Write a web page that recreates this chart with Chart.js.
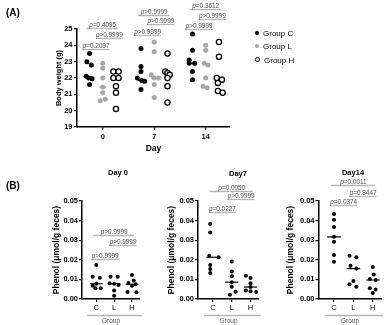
<!DOCTYPE html>
<html>
<head>
<meta charset="utf-8">
<script src="https://cdn.jsdelivr.net/npm/chart.js@4.4.0/dist/chart.umd.min.js"></script>
<style>
  html, body { margin: 0; padding: 0; background: #fff; }
  #fig { position: relative; width: 391px; height: 325px; overflow: hidden; font-family: "Liberation Sans", Arial, sans-serif; }
  canvas { position: absolute; }
  .txt { position: absolute; white-space: nowrap; color: #000; transform: translate(-50%, -50%); }
  .panel { font-weight: bold; font-size: 10px; transform: none; }
  .day { font-weight: bold; font-size: 7.5px; }
  .leg { position: absolute; left: 255px; font-size: 8px; color: #000; white-space: nowrap; }
  .leg i { display: inline-block; width: 4px; height: 4px; border-radius: 50%; margin-right: 4px; vertical-align: middle; position: relative; top: -1px; box-sizing: border-box; }
</style>
</head>
<body>
<div id="fig">
  <canvas id="chartA" width="391" height="160" style="left:0;top:0"></canvas>
  <canvas id="chartB0" width="110" height="165" style="left:40px;top:160px"></canvas>
  <canvas id="chartB7" width="110" height="165" style="left:155px;top:160px"></canvas>
  <canvas id="chartB14" width="116" height="165" style="left:275px;top:160px"></canvas>

  <div class="txt panel" style="left:6px;top:7px">(A)</div>
  <div class="txt panel" style="left:6px;top:180px">(B)</div>

  <div class="leg" style="top:29px"><i style="background:#000"></i>Group C</div>
  <div class="leg" style="top:42px"><i style="background:#a6a6a6"></i>Group L</div>
  <div class="leg" style="top:56px"><i style="background:#fff;border:1.2px solid #000;width:5px;height:5px"></i>Group H</div>

  <div class="txt day" style="left:118px;top:172px">Day 0</div>
  <div class="txt day" style="left:238px;top:173px">Day7</div>
  <div class="txt day" style="left:353px;top:172px">Day14</div>
</div>

<script>
// Categories
const days = [0, 7, 14];
const groups = ['C', 'L', 'H'];

// Body weight (g), one list per day: [day 0, day 7, day 14]
const weightC = [
  [23.5, 23.0, 22.8, 22.1, 22.0, 21.95, 21.6],
  [23.8, 22.7, 22.4, 22.0, 21.85, 21.8, 21.3],
  [24.7, 23.7, 23.1, 22.9, 22.9, 22.4, 21.9]
];
const weightL = [
  [22.9, 22.6, 22.0, 21.45, 21.1, 20.7, 20.6],
  [24.2, 23.6, 22.2, 22.0, 22.0, 21.6, 20.8],
  [24.0, 23.7, 22.9, 22.8, 22.0, 21.5, 21.4]
];
const weightH = [
  [22.4, 22.4, 22.0, 22.0, 21.5, 21.1, 20.1],
  [23.5, 22.4, 22.3, 22.2, 22.0, 21.5, 20.5],
  [24.2, 23.3, 22.0, 21.9, 21.7, 21.2, 21.1]
];
const weightMedC = [22.05, 21.85, 22.9];
const weightMedL = [21.45, 22.0, 22.85];
const weightMedH = [22.0, 22.2, 21.9];
// p values per day: [C vs L, L vs H, C vs H]
const weightP = [
  ['p=0.2097', 'p>0.9999', 'p=0.4095'],
  ['p>0.9999', 'p>0.9999', 'p>0.9999'],
  ['p>0.9999', 'p>0.9999', 'p=0.3612']
];

// Phenol (umol/g feces), one list per day
const phenolC = [
  [0.0173, 0.0114, 0.0108, 0.0078, 0.0068, 0.0055, 0.0055],
  [0.0383, 0.0339, 0.0221, 0.0213, 0.0174, 0.0153, 0.0133],
  [0.0434, 0.0404, 0.0367, 0.0317, 0.0292, 0.0225, 0.0190]
];
const phenolL = [
  [0.0114, 0.0114, 0.0080, 0.0078, 0.0072, 0.0044, 0.0016],
  [0.0191, 0.0140, 0.0116, 0.0086, 0.0063, 0.0037, 0.0022],
  [0.0221, 0.0213, 0.0170, 0.0155, 0.0092, 0.0075, 0.0063]
];
const phenolH = [
  [0.0122, 0.0095, 0.0082, 0.0075, 0.0068, 0.0036, 0.0034],
  [0.0118, 0.0107, 0.0080, 0.0061, 0.0043, 0.0040, 0.0036],
  [0.0163, 0.0125, 0.0102, 0.0097, 0.0055, 0.0048, 0.0030]
];
const phenolMedC = [0.0078, 0.0213, 0.0317];
const phenolMedL = [0.0078, 0.0086, 0.0155];
const phenolMedH = [0.0075, 0.0061, 0.0097];
const phenolP = [
  ['p>0.9999', 'p>0.9999', 'p>0.9999'],
  ['p=0.0227', 'p>0.9999', 'p=0.0050'],
  ['p=0.0374', 'p=0.8447', 'p=0.0011']
];
const dayTitles = ['Day 0', 'Day7', 'Day14'];

// ---- layout / styling (not data) ----
const FONT = '"Liberation Sans", Arial, sans-serif';
Chart.defaults.font.family = FONT;
Chart.defaults.color = '#000';

// horizontal scatter of dots (x units), same shape as the value lists
const jitterA = {
  C: [[0, -0.35, 0.25, -0.45, -0.1, 0.35, 0], [0, 0, 0, -0.5, 0.1, 0.5, 0], [0, 0, -0.45, -0.45, 0.3, 0, 0]],
  L: [[0, 0, 0, 0, 0, 0.35, -0.35], [0, 0, -0.4, 0, 0.6, 0, 0], [0, 0, -0.2, 0.3, 0, -0.35, 0.2]],
  H: [[-0.35, 0.35, -0.35, 0.35, 0, 0, 0], [0, -0.3, 0, 0.3, 0, 0, 0], [0, 0, -0.3, 0.4, -0.15, -0.15, 0.5]]
};
const jitterB = {
  C: [[0, -0.2, 0.2, 0, -0.2, -0.05, 0.25], [-0.15, -0.15, -0.2, 0.3, -0.15, -0.15, -0.15], [0, 0, 0, 0, 0, 0, 0]],
  L: [[-0.2, 0.2, -0.25, 0, 0.25, 0, 0], [0, 0, 0, 0, 0, 0.2, -0.1], [-0.2, 0.15, -0.15, 0.15, 0, -0.2, 0.15]],
  H: [[0, 0.1, -0.2, 0.2, 0, -0.25, 0.25], [-0.25, 0, 0, 0, -0.25, 0, 0.3], [0, 0.05, -0.15, 0.15, -0.15, 0.15, 0]]
};
const groupOffsetA = { C: -1.8, L: 0, H: 1.8 };
const pairs = [['C', 'L'], ['L', 'H'], ['C', 'H']];
const bracketLevelsA = [[23.77, 24.43, 25.04], [24.63, 25.31, 25.86], [24.98, 25.62, 26.22]];
const bracketLevelsB = [[0.0204, 0.0276, 0.0327], [0.0446, 0.0509, 0.0552], [0.048, 0.0528, 0.0582]];

const weight = { C: weightC, L: weightL, H: weightH };
const weightMed = { C: weightMedC, L: weightMedL, H: weightMedH };
const phenol = { C: phenolC, L: phenolL, H: phenolH };
const phenolMed = { C: phenolMedC, L: phenolMedL, H: phenolMedH };

// p-value brackets + "Group" rule under the x axis
const bracketPlugin = {
  id: 'brackets',
  afterDraw(chart, args, opts) {
    const { ctx } = chart;
    const xs = chart.scales.x, ys = chart.scales.y;
    ctx.save();
    (opts.items || []).forEach(b => {
      const x1 = xs.getPixelForValue(b.from);
      const x2 = xs.getPixelForValue(b.to);
      const yy = Math.round(ys.getPixelForValue(b.level)) + 0.5;
      ctx.font = `italic ${opts.size}px ${FONT}`;
      const pw = ctx.measureText('p').width;
      ctx.font = `${opts.size}px ${FONT}`;
      const rest = b.text.slice(1);
      const tw = pw + ctx.measureText(rest).width;
      const mid = (x1 + x2) / 2;
      const left = Math.min(x1 - 3, mid - tw / 2);
      const right = Math.max(x2 + 2, mid + tw / 2);
      ctx.strokeStyle = '#b5b5b5';
      ctx.lineWidth = 1.3;
      ctx.beginPath();
      ctx.moveTo(left, yy);
      ctx.lineTo(right, yy);
      ctx.stroke();
      ctx.fillStyle = '#4d4d4d';
      ctx.textBaseline = 'alphabetic';
      ctx.textAlign = 'left';
      ctx.font = `italic ${opts.size}px ${FONT}`;
      ctx.fillText('p', mid - tw / 2, yy - 1.5);
      ctx.font = `${opts.size}px ${FONT}`;
      ctx.fillText(rest, mid - tw / 2 + pw, yy - 1.5);
    });
    if (opts.groupRule) {
      const a = xs.getPixelForValue(0) - 9;
      const c = xs.getPixelForValue(groups.length - 1) + 10;
      const yy = xs.bottom - 9.5;
      ctx.strokeStyle = '#b5b5b5';
      ctx.lineWidth = 1.3;
      ctx.beginPath();
      ctx.moveTo(a, yy);
      ctx.lineTo(c, yy);
      ctx.stroke();
    }
    ctx.restore();
  }
};

function axisStyle() {
  return {
    grid: { drawOnChartArea: false, drawTicks: true, tickLength: 3, color: '#000', lineWidth: 1.2 },
    border: { color: '#000', width: 1.5 }
  };
}

// ---- Panel A ----
function renderWeightChart() {
  const styles = {
    C: { backgroundColor: '#000', borderColor: '#000', borderWidth: 0, pointRadius: 2.5 },
    L: { backgroundColor: '#a6a6a6', borderColor: '#a6a6a6', borderWidth: 0, pointRadius: 2.5 },
    H: { backgroundColor: '#fff', borderColor: '#000', borderWidth: 1.3, pointRadius: 2.6 }
  };
  const medColor = { C: '#000', L: '#999', H: '#000' };
  const datasets = [];
  groups.forEach(g => {
    days.forEach((d, i) => {
      const cx = d + groupOffsetA[g];
      datasets.push({
        data: [{ x: cx - 0.45, y: weightMed[g][i] }, { x: cx + 0.45, y: weightMed[g][i] }],
        showLine: true, borderColor: medColor[g], borderWidth: 1.2, pointRadius: 0, order: 2
      });
    });
  });
  groups.forEach(g => {
    const pts = [];
    days.forEach((d, i) => {
      weight[g][i].forEach((v, j) => pts.push({ x: d + groupOffsetA[g] + jitterA[g][i][j], y: v }));
    });
    datasets.push(Object.assign({ label: 'Group ' + g, data: pts, order: 1, clip: false }, styles[g]));
  });

  const items = [];
  days.forEach((d, i) => {
    pairs.forEach((p, k) => {
      items.push({ from: d + groupOffsetA[p[0]], to: d + groupOffsetA[p[1]], level: bracketLevelsA[i][k], text: weightP[i][k] });
    });
  });

  const ax = axisStyle();
  new Chart(document.getElementById('chartA'), {
    type: 'scatter',
    data: { datasets },
    plugins: [bracketPlugin],
    options: {
      responsive: false, animation: false, events: [],
      layout: { padding: { left: 52, top: 29, right: 161, bottom: 0 } },
      plugins: {
        legend: { display: false }, tooltip: { enabled: false },
        brackets: { items, size: 6.4 }
      },
      scales: {
        x: {
          type: 'linear', min: -3.5, max: 17.3,
          afterBuildTicks: s => { s.ticks = days.map(v => ({ value: v })); },
          afterFit: s => { s.height = 33; },
          grid: ax.grid, border: ax.border,
          ticks: { color: '#000', font: { size: 7.5, weight: 'bold' }, padding: 2 },
          title: { display: true, text: 'Day', color: '#000', font: { size: 8.5, weight: 'bold' }, padding: { top: 0, bottom: 6 } }
        },
        y: {
          min: 19, max: 25,
          afterFit: s => { s.width = 25; },
          grid: ax.grid, border: ax.border,
          ticks: { stepSize: 1, color: '#000', font: { size: 7.5, weight: 'bold' }, padding: 1.5 },
          title: { display: true, text: 'Body weight (g)', color: '#000', font: { size: 7.5, weight: 'bold' }, padding: { top: 2, bottom: 0 } }
        }
      }
    }
  });
}

// ---- Panel B ----
const panelBLayout = [
  { id: 'chartB0', padLeft: 11, axisWidth: 31, padRight: 10 },
  { id: 'chartB7', padLeft: 11, axisWidth: 32, padRight: 6 },
  { id: 'chartB14', padLeft: 9.5, axisWidth: 34, padRight: 9.5 }
];

function renderPhenolChart(i) {
  const lay = panelBLayout[i];
  const datasets = [];
  groups.forEach((g, gi) => {
    datasets.push({
      data: [{ x: gi - 0.35, y: phenolMed[g][i] }, { x: gi + 0.35, y: phenolMed[g][i] }],
      showLine: true, borderColor: '#000', borderWidth: 1.2, pointRadius: 0, order: 2
    });
  });
  groups.forEach((g, gi) => {
    datasets.push({
      data: phenol[g][i].map((v, j) => ({ x: gi + jitterB[g][i][j], y: v })),
      backgroundColor: '#000', borderColor: '#000', borderWidth: 0, pointRadius: 2, order: 1, clip: false
    });
  });
  const items = pairs.map((p, k) => ({
    from: groups.indexOf(p[0]), to: groups.indexOf(p[1]), level: bracketLevelsB[i][k], text: phenolP[i][k]
  }));

  const ax = axisStyle();
  new Chart(document.getElementById(lay.id), {
    type: 'scatter',
    data: { datasets },
    plugins: [bracketPlugin],
    options: {
      responsive: false, animation: false, events: [],
      layout: { padding: { left: lay.padLeft, top: 41, right: lay.padRight, bottom: 0 } },
      plugins: {
        legend: { display: false }, tooltip: { enabled: false },
        brackets: { items, size: 6.4, groupRule: true }
      },
      scales: {
        x: {
          type: 'linear', min: -0.8, max: 2.45,
          afterBuildTicks: s => { s.ticks = groups.map((g, gi) => ({ value: gi })); },
          afterFit: s => { s.height = 26; },
          grid: ax.grid, border: ax.border,
          ticks: { color: '#000', font: { size: 7.5 }, padding: 1, callback: v => groups[v] },
          title: { display: true, text: 'Group', color: '#555', font: { size: 6.5 }, padding: { top: 0, bottom: 0 } }
        },
        y: {
          min: 0, max: 0.05,
          afterFit: s => { s.width = lay.axisWidth; },
          grid: ax.grid, border: ax.border,
          ticks: { stepSize: 0.01, color: '#000', font: { size: 7.5, weight: 'bold' }, padding: 1, callback: v => v.toFixed(2) },
          title: { display: true, text: 'Phenol (μmol/g feces)', color: '#000', font: { size: 8.5, weight: 'bold' }, padding: { top: 1, bottom: 0 } }
        }
      }
    }
  });
}

renderWeightChart();
dayTitles.forEach((t, i) => renderPhenolChart(i));
</script>
</body>
</html>
